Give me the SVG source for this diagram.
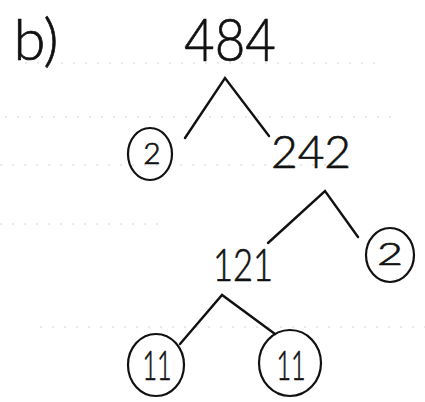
<svg xmlns="http://www.w3.org/2000/svg" width="425" height="402" viewBox="0 0 425 402">
  <style>
    .num { font-family: Lato, "Liberation Sans", sans-serif; font-weight: 300; fill: #111; stroke: #111; stroke-width: 0.7; text-anchor: middle; }
    .ring { fill: none; stroke: #111; stroke-width: 2.2; }
    .edge { fill: none; stroke: #111; stroke-width: 2.4; stroke-linecap: round; }
    .rule { stroke: #d4d4d4; stroke-width: 1; stroke-dasharray: 2 10; }
  </style>
  <rect width="425" height="402" fill="#fff"/>

  <!-- notebook ruling -->
  <g id="ruling">
    <line class="rule" x1="25" y1="63" x2="375" y2="63"/>
    <line class="rule" x1="5" y1="117" x2="400" y2="117"/>
    <line class="rule" x1="0" y1="165" x2="350" y2="165"/>
    <line class="rule" x1="0" y1="224" x2="160" y2="224"/>
    <line class="rule" x1="40" y1="327" x2="425" y2="327"/>
  </g>

  <text id="label" class="num" x="36" y="60" font-size="58">b)</text>

  <g id="connectors">
    <polyline class="edge" points="185,138 225,78 269,136"/>
    <polyline class="edge" points="268,243 325,191 358,237"/>
    <polyline class="edge" points="180,344 222,295 275,334"/>
  </g>

  <g id="n484"><text class="num" font-size="60" transform="translate(230 61) scale(0.88 1)">484</text></g>
  <g id="n2a">
    <ellipse class="ring" cx="150" cy="154" rx="22" ry="26"/>
    <text class="num" x="152" y="164" font-size="30">2</text>
  </g>
  <g id="n242"><text class="num" x="311" y="168" font-size="46">242</text></g>
  <g id="n121"><text class="num" font-size="46" transform="translate(243 281) scale(0.75 1)">121</text></g>
  <g id="n2b">
    <ellipse class="ring" cx="390" cy="255" rx="24" ry="27"/>
    <text class="num" font-size="32" transform="translate(390 265) scale(1.4 1)">2</text>
  </g>
  <g id="n11a">
    <ellipse class="ring" cx="156" cy="365" rx="28" ry="31"/>
    <text class="num" font-size="42" transform="translate(157 380) scale(0.6 1)">11</text>
  </g>
  <g id="n11b">
    <ellipse class="ring" cx="290" cy="363" rx="31" ry="33"/>
    <text class="num" font-size="42" transform="translate(291 380) scale(0.6 1)">11</text>
  </g>
</svg>
